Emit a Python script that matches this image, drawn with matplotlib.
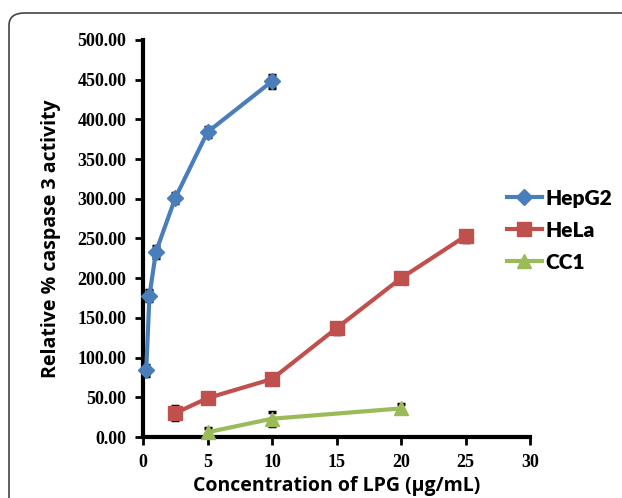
import matplotlib
matplotlib.use("Agg")
import matplotlib.pyplot as plt
from matplotlib.patches import FancyBboxPatch

hep_x = [0.25, 0.5, 1, 2.5, 5, 10]
hep_y = [84, 178, 233, 301, 384, 448]
hep_err = [7, 7, 7, 6, 6, 8]

hela_x = [2.5, 5, 10, 15, 20, 25]
hela_y = [30, 49, 73, 137, 200, 253]
hela_err = [9, 5, 5, 7, 5, 7]

cc1_x = [5, 10, 20]
cc1_y = [6, 23, 36]
cc1_err = [5, 9, 6]

xticks = [0, 5, 10, 15, 20, 25, 30]
yticks = [0, 50, 100, 150, 200, 250, 300, 350, 400, 450, 500]

fig = plt.figure(figsize=(6.22, 4.98), dpi=100)
W, H = 622, 498
box = FancyBboxPatch((9 / W, -0.2), 1.2, 1 - 13 / H + 0.2,
                     boxstyle="round,pad=0,rounding_size=0.025",
                     transform=fig.transFigure, fill=False,
                     edgecolor="#444444", linewidth=1.2, zorder=0)
fig.patches.append(box)

ax = fig.add_axes([143 / W, 1 - 437 / H, (530 - 143) / W, (437 - 40) / H])

series = [
    (hep_x, hep_y, hep_err, "#4A7EBB", "D", 8, "HepG2"),
    (hela_x, hela_y, hela_err, "#C0504D", "s", 9.5, "HeLa"),
    (cc1_x, cc1_y, cc1_err, "#9BBB59", "^", 10, "CC1"),
]
for x, y, e, c, m, ms, lab in series:
    ax.errorbar(x, y, yerr=e, fmt="none", ecolor="black", elinewidth=1.5,
                capsize=3, capthick=2.5, zorder=2)
    ax.plot(x, y, color=c, marker=m, markersize=ms, linewidth=3,
            label=lab, zorder=3, clip_on=False)

ax.set_xlim(0, 30)
ax.set_ylim(0, 500)
ax.set_xticks(xticks)
ax.set_yticks(yticks)
ax.set_xticklabels([str(t) for t in xticks])
ax.set_yticklabels([f"{t:.2f}" for t in yticks])
for s in ["top", "right"]:
    ax.spines[s].set_visible(False)
for s in ["left", "bottom"]:
    ax.spines[s].set_linewidth(3)
ax.tick_params(direction="out", length=6, width=2, pad=6)
for lbl in ax.get_xticklabels() + ax.get_yticklabels():
    lbl.set_fontfamily("Liberation Serif")
    lbl.set_fontweight("bold")
    lbl.set_fontsize(13)

ax.set_xlabel("Concentration of LPG (µg/mL)", fontsize=14, fontweight="bold",
              family="Open Sans", labelpad=4)
ax.set_ylabel("Relative % caspase 3 activity", fontsize=14, fontweight="bold",
              family="Open Sans", labelpad=12)

leg = ax.legend(loc="center left", bbox_to_anchor=(0.94, 0.521), frameon=False,
                prop={"family": "Lato", "weight": "heavy", "size": 15},
                handlelength=1.7, handletextpad=0.15, labelspacing=0.62,
                borderaxespad=0, borderpad=0)

fig.savefig("out.png", dpi=100)
